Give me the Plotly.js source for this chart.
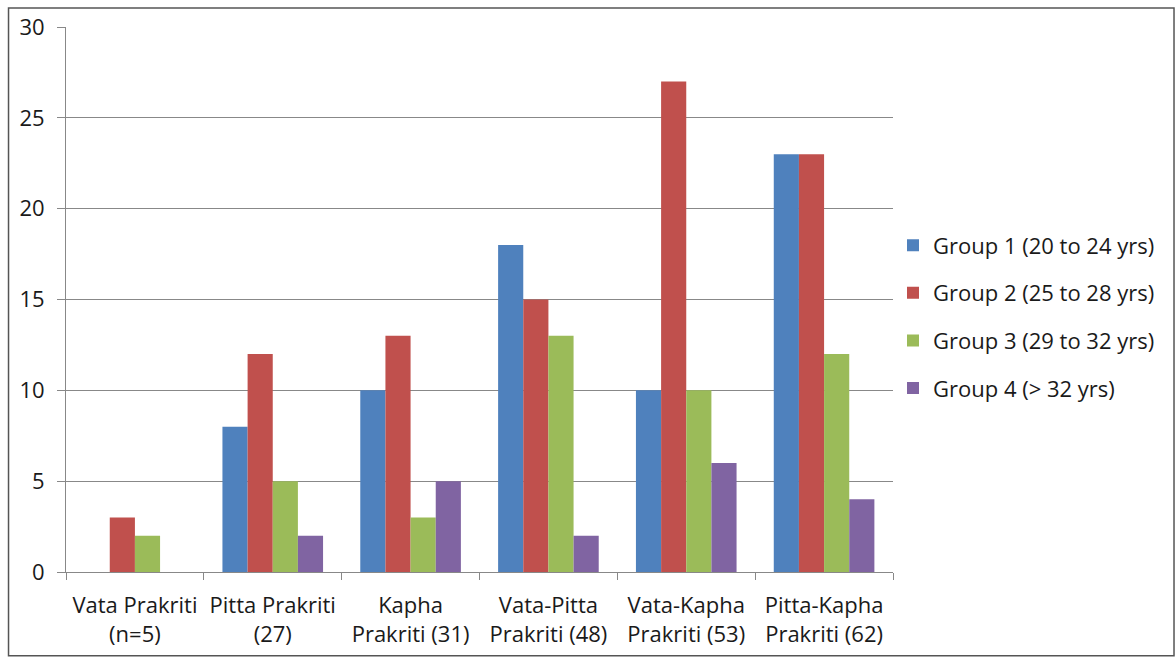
<!DOCTYPE html>
<html>
<head>
<meta charset="utf-8">
<script src="https://cdn.plot.ly/plotly-3.0.1.min.js"></script>
<style>html,body{margin:0;padding:0;background:#fff;}#chart{width:1175px;height:657px;}</style>
</head>
<body>
<div id="chart"></div>
<script>
const categories = ["Vata Prakriti<br>(n=5)", "Pitta Prakriti<br>(27)", "Kapha<br>Prakriti (31)", "Vata-Pitta<br>Prakriti (48)", "Vata-Kapha<br>Prakriti (53)", "Pitta-Kapha<br>Prakriti (62)"];
const seriesNames = ["Group 1 (20 to 24 yrs)", "Group 2 (25 to 28 yrs)", "Group 3 (29 to 32 yrs)", "Group 4 (> 32 yrs)"];
const group1 = [0, 8, 10, 18, 10, 23];
const group2 = [3, 12, 13, 15, 27, 23];
const group3 = [2, 5, 3, 13, 10, 12];
const group4 = [0, 2, 5, 2, 6, 4];
const colors = ["#4F81BD", "#C0504D", "#9BBB59", "#8064A2"];
const allSeries = [group1, group2, group3, group4];

const FONT = "'Open Sans', sans-serif";
const TXT = "#1a1a1a";
const FS = 22;
const traces = allSeries.map((vals, i) => ({
  type: "bar",
  name: seriesNames[i],
  legendgroup: "g" + i,
  x: categories,
  y: vals,
  marker: {color: colors[i], line: {width: 0}},
  hoverinfo: "y"
}));

const layout = {
  width: 1175, height: 657,
  margin: {l: 66, r: 282, t: 27, b: 85},
  paper_bgcolor: "#fff", plot_bgcolor: "#fff",
  barmode: "group",
  bargap: 0.27,
  bargroupgap: 0,
  font: {family: FONT, size: FS, color: TXT},
  xaxis: {
    type: "category",
    tickson: "boundaries",
    tickangle: 0,
    ticks: "outside", ticklen: 7, tickcolor: "#888", tickwidth: 1,
    showline: true, linecolor: "#888", linewidth: 1,
    showgrid: false,
    tickfont: {family: FONT, size: FS, color: TXT},
    ticklabelstandoff: 14,
    automargin: false
  },
  yaxis: {
    range: [0, 30],
    dtick: 5,
    ticks: "outside", ticklen: 8, tickcolor: "#888",
    showline: true, linecolor: "#888", linewidth: 1,
    showgrid: true, gridcolor: "#888", gridwidth: 1,
    zeroline: false,
    tickfont: {family: FONT, size: FS, color: TXT},
    ticklabelstandoff: 8,
    automargin: false
  },
  legend: {
    x: 1.0, y: 0.468, xanchor: "left", yanchor: "middle",
    font: {family: FONT, size: FS, color: TXT},
    tracegroupgap: 16,
    itemwidth: 30,
    bgcolor: "rgba(0,0,0,0)"
  },
  shapes: [{
    type: "rect", xref: "paper", yref: "paper",
    x0: -0.0695, x1: 1.3398, y0: -0.1535, y1: 1.035,
    line: {color: "#555", width: 1.5}, fillcolor: "rgba(0,0,0,0)"
  }]
};

Plotly.newPlot("chart", traces, layout, {displayModeBar: false, staticPlot: true});
</script>
</body>
</html>
